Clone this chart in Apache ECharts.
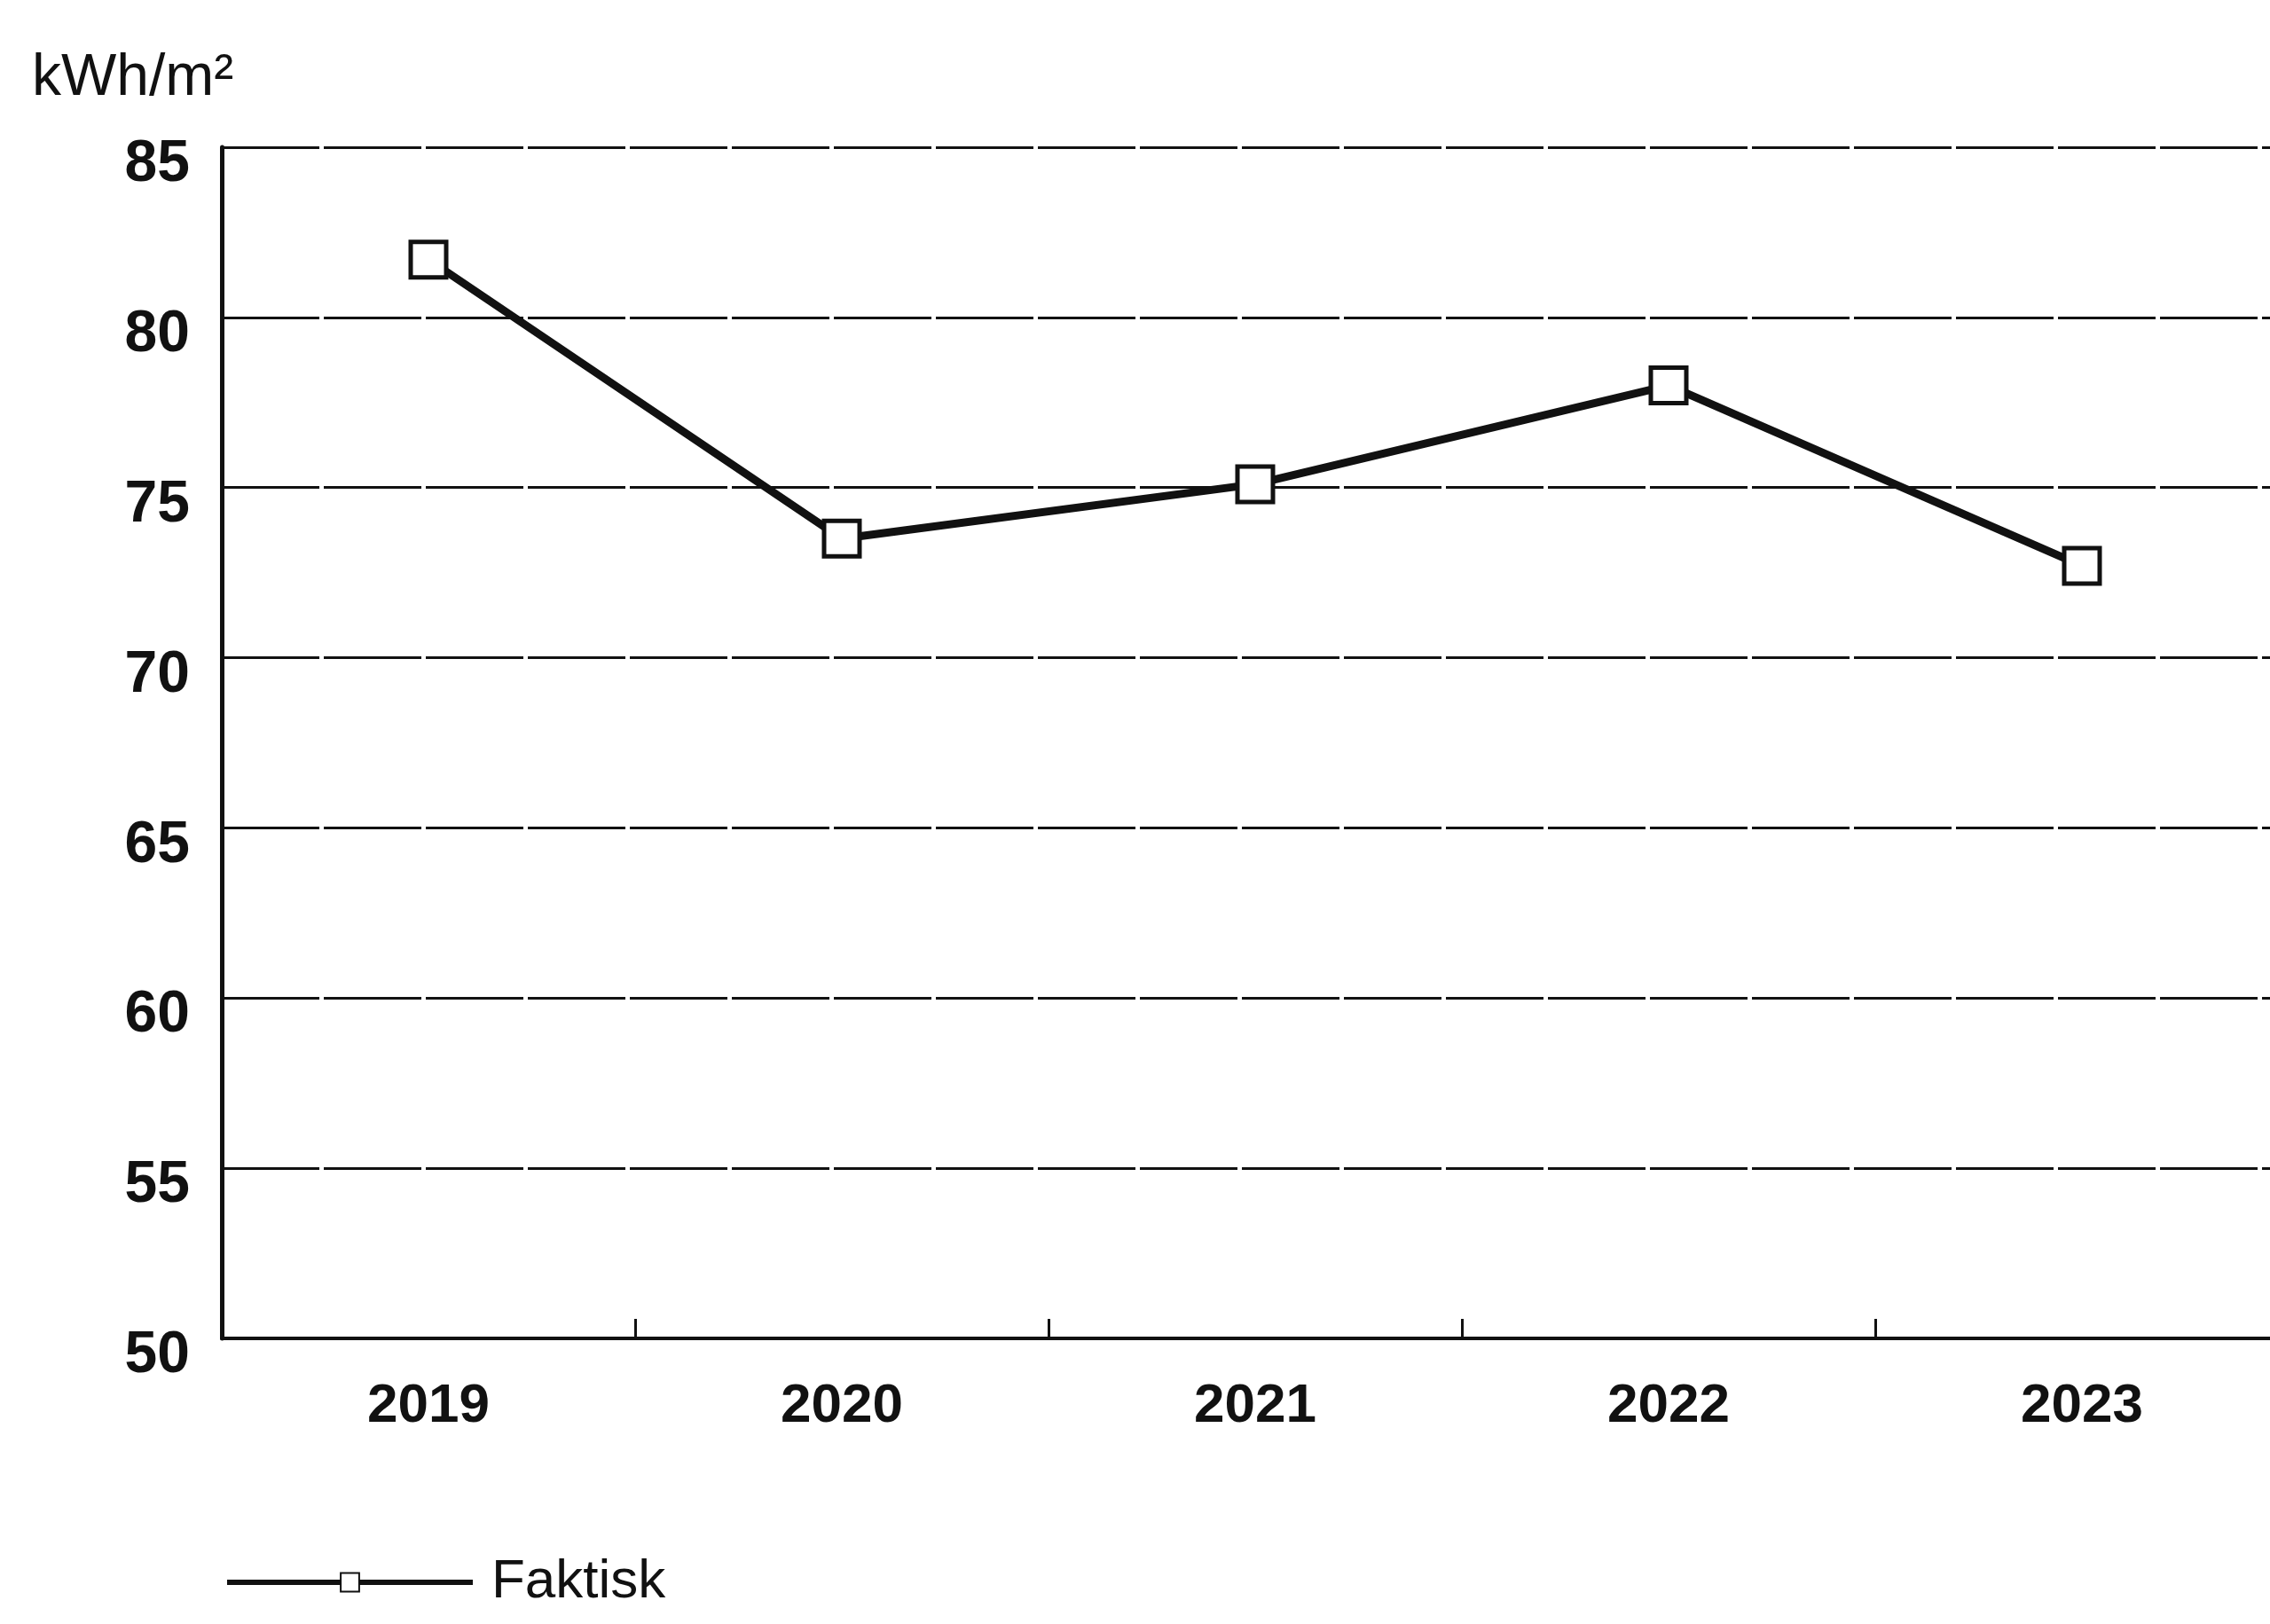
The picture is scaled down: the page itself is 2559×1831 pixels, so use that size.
<!DOCTYPE html>
<html>
<head>
<meta charset="utf-8">
<title>Faktisk kWh/m²</title>
<script src="https://cdn.jsdelivr.net/npm/echarts@6/dist/echarts.min.js"></script>
<style>
  html, body { margin: 0; padding: 0; background: #ffffff; overflow: hidden; }
  #chart { width: 2580px; height: 1831px; }
</style>
</head>
<body>
<div id="chart"></div>
<script>
// Energy use per square metre, by year
const years = ['2019', '2020', '2021', '2022', '2023'];
const faktisk = [81.7, 73.5, 75.1, 78.0, 72.7];
const yTicks = { min: 50, max: 85, step: 5 };
const unitLabel = 'kWh/m²';
const seriesName = 'Faktisk';

const font = '"Liberation Sans", Arial, sans-serif';
const ink = '#111111';

const chart = echarts.init(document.getElementById('chart'), null, { renderer: 'canvas' });

chart.setOption({
  backgroundColor: '#ffffff',
  animation: false,
  graphic: [{
    type: 'text',
    left: 36,
    top: 56,
    style: { text: unitLabel, font: '66px ' + font, fill: ink }
  }],
  // the plot runs on past the right edge of the page
  grid: { left: 250, right: 0, top: 166, bottom: 1831 - 1509 },
  legend: {
    left: 248,
    top: 1748,
    itemWidth: 277,
    itemHeight: 26,
    lineStyle: { width: 6 },
    textStyle: { fontFamily: font, fontSize: 62, color: ink, padding: [0, 0, 0, 16] },
    data: [seriesName]
  },
  xAxis: {
    type: 'category',
    data: years,
    boundaryGap: true,
    axisLine: { lineStyle: { color: ink, width: 4 } },
    axisTick: { show: true, inside: true, length: 22, lineStyle: { color: ink, width: 3 } },
    axisLabel: { fontFamily: font, fontWeight: 'bold', fontSize: 62, color: ink, margin: 46 },
    splitLine: { show: false }
  },
  yAxis: {
    type: 'value',
    min: yTicks.min,
    max: yTicks.max,
    interval: yTicks.step,
    axisLine: { show: true, lineStyle: { color: ink, width: 5 } },
    axisTick: { show: false },
    axisLabel: {
      fontFamily: font, fontWeight: 'bold', fontSize: 66, color: ink, margin: 36,
      // tick values sit a little below their grid lines
      lineHeight: 40,
      formatter: v => '\n' + v
    },
    splitLine: { show: true, lineStyle: { color: ink, width: 3, type: [110, 5] } }
  },
  series: [{
    name: seriesName,
    type: 'line',
    data: faktisk,
    symbol: 'rect',
    symbolSize: 40,
    lineStyle: { color: ink, width: 9 },
    itemStyle: { color: '#ffffff', borderColor: ink, borderWidth: 5 },
    z: 3
  }]
});
</script>
</body>
</html>
